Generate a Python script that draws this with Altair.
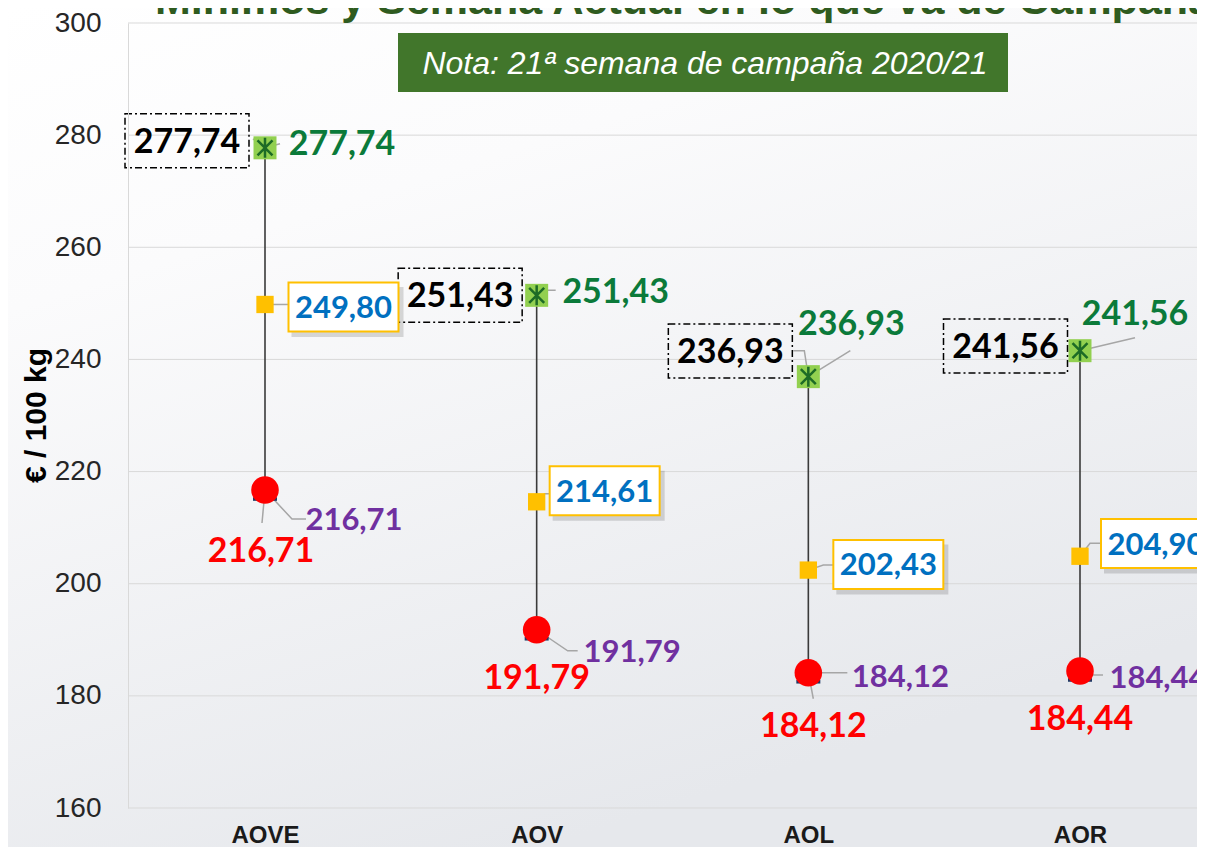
import json
import altair as alt
import pandas as pd

# ---------------- data ----------------
cats = ["AOVE", "AOV", "AOL", "AOR"]
maximo = [277.74, 251.43, 236.93, 241.56]
actual = [249.80, 214.61, 202.43, 204.90]
minimo = [216.71, 191.79, 184.12, 184.44]
y_ticks = [160, 180, 200, 220, 240, 260, 280, 300]
title_text = "Mínimos y Semana Actual en lo que va de Campaña"
note_text = "Nota: 21ª semana de campaña 2020/21"
y_title = "€ / 100 kg"

# ---------------- layout (pixels) ----------------
W, H = 1069, 785
X0, X1 = 137, 952
YMIN, YMAX = 160, 300
PXX = (X1 - X0) / (len(cats) - 1)
PXY = H / (YMAX - YMIN)

# label offsets (dx to text centre, dy to text baseline) from each point
black_off = [(-78, 5), (-76.5, 12), (-78, -13.6), (-74.5, 7.3)]
green_off = [(77, 7), (79, 8), (43, -41.6), (55, -25.7)]
blue_off = [(78.5, 13.5), (68, 0), (80, 5.4), (76, -1.7)]
red_off = [(-4, 72), (0, 59.3), (5, 64.3), (0, 59.5)]
purple_off = [(89, 40), (95.5, 32.3), (92, 14.3), (78, 17)]

# leader lines (pixel waypoints from the point)
leaders = [
    (maximo, 0, [(0, 0), (-12, -9)]),
    (maximo, 0, [(0, 0), (15, -4)]),
    (maximo, 1, [(0, 0), (11, -5), (19, -5)]),
    (maximo, 2, [(0, 0), (-4, -26), (-15, -26)]),
    (maximo, 2, [(0, 0), (42, -26)]),
    (maximo, 3, [(0, 0), (55, -13)]),
    (actual, 0, [(0, 0), (24, 0)]),
    (actual, 1, [(0, 0), (8, -8), (15, -8)]),
    (actual, 2, [(0, 0), (15, -5), (25, -5)]),
    (actual, 3, [(0, 0), (10, -13), (20, -13)]),
    (minimo, 0, [(0, 0), (-3, 33)]),
    (minimo, 2, [(0, 0), (5, 26)]),
    (minimo, 0, [(0, 0), (27, 29), (41, 29)]),
    (minimo, 1, [(0, 0), (31, 21), (41, 21)]),
    (minimo, 2, [(0, 0), (15, 0), (39, 0)]),
    (minimo, 3, [(0, 0), (10, 4), (23, 4)]),
]


def fmt(v):
    return f"{v:.2f}".replace(".", ",")


def lab_df(values, offs, box_dy=0.0):
    rows = []
    for i, (v, (dx, dy)) in enumerate(zip(values, offs)):
        rows.append(dict(lx=i + dx / PXX, ly=v - dy / PXY,
                         by=v - (dy - box_dy) / PXY, txt=fmt(v)))
    return pd.DataFrame(rows)


pts = pd.DataFrame(dict(idx=list(range(len(cats))), mx=maximo, act=actual, mn=minimo))
grid = pd.DataFrame(dict(t=y_ticks))

lrows = []
for k, (vals, i, path) in enumerate(leaders):
    for o, (dx, dy) in enumerate(path):
        lrows.append(dict(lid=k, o=o, lx=i + dx / PXX, ly=vals[i] - dy / PXY))
lead = pd.DataFrame(lrows)

black = lab_df(maximo, black_off, 12)
green = lab_df(maximo, green_off)
blue = lab_df(actual, blue_off, 11)
red = lab_df(minimo, red_off)
purple = lab_df(minimo, purple_off)

one = pd.DataFrame(dict(a=[0]))

# ---------------- scales / axes ----------------
xscale = alt.Scale(domain=[0, len(cats) - 1], range=[X0, X1], nice=False, zero=False)
yscale = alt.Scale(domain=[YMIN, YMAX], nice=False, zero=False)
label_expr = json.dumps(cats) + "[datum.value]"
xaxis = alt.Axis(values=list(range(len(cats))), labelExpr=label_expr, title="",
                 labelFont="Liberation Sans", labelFontSize=24, labelFontWeight="bold",
                 labelColor="#1a1a1a", labelPadding=15, ticks=False, domain=False,
                 grid=False, labelFlush=False, labelOverlap=False, zindex=1)
yaxis = alt.Axis(values=y_ticks, title=y_title, labelFont="Liberation Sans",
                 labelFontSize=28, labelColor="#262626", labelPadding=27, ticks=False,
                 domain=True, domainColor="#d9d9d9", domainWidth=1, grid=False,
                 titleFont="Liberation Sans", titleFontSize=30, titleFontWeight="bold",
                 titleColor="#000000", titleX=-92, titleY=392, titleBaseline="middle",
                 labelFlush=False, zindex=1)


def X(f):
    return alt.X(f"{f}:Q", scale=xscale, axis=xaxis)


def Y(f):
    return alt.Y(f"{f}:Q", scale=yscale, axis=yaxis)


# ---------------- layers ----------------
bg = alt.Chart(one).mark_rect(
    color=alt.Gradient(gradient="linear", x1=0, y1=0, x2=0.45, y2=1,
                       stops=[alt.GradientStop(color="#ffffff", offset=0),
                              alt.GradientStop(color="#fbfbfc", offset=0.3),
                              alt.GradientStop(color="#e6e8ec", offset=1)])
).encode(x=alt.value(-120), x2=alt.value(W), y=alt.value(-15), y2=alt.value(H + 39))

gridlines = alt.Chart(grid).mark_rule(color="#d9d9d9", strokeWidth=1).encode(
    y=Y("t"), x=alt.value(0), x2=alt.value(W))

note_box = alt.Chart(one).mark_rect(color="#41762b").encode(
    x=alt.value(270), x2=alt.value(880), y=alt.value(10), y2=alt.value(69))
note = alt.Chart(one).mark_text(
    text=note_text, font="Liberation Sans", fontSize=32, fontStyle="italic",
    color="#ffffff", align="center", baseline="middle"
).encode(x=alt.value(577), y=alt.value(41))

title = alt.Chart(one).mark_text(
    text=title_text, font="Liberation Sans", fontSize=43, fontWeight="bold",
    color="#2f5b1f", align="left", baseline="alphabetic"
).encode(x=alt.value(27), y=alt.value(-9))

vlines = alt.Chart(pts).mark_rule(color="#3a3a3a", strokeWidth=1.6).encode(
    x=X("idx"), y=Y("mn"), y2=alt.Y2("mx"))

leader_lines = alt.Chart(lead).mark_line(color="#a6a6a6", strokeWidth=1.5).encode(
    x=X("lx"), y=Y("ly"), detail="lid:N", order="o:Q")

dash = alt.Chart(pts).mark_point(
    shape="M-1,-0.15L1,-0.15L1,0.15L-1,0.15Z", size=576, filled=True,
    color="#1f3864", opacity=1, yOffset=9
).encode(x=X("idx"), y=Y("mn"))

circles = alt.Chart(pts).mark_point(
    shape="circle", size=760, filled=True, color="#ff0000", opacity=1
).encode(x=X("idx"), y=Y("mn"))

squares = alt.Chart(pts).mark_point(
    shape="square", size=300, filled=True, color="#ffc000", opacity=1
).encode(x=X("idx"), y=Y("act"))

gsq = alt.Chart(pts).mark_point(
    shape="square", size=529, filled=True, color="#92d050", opacity=1
).encode(x=X("idx"), y=Y("mx"))

star = alt.Chart(pts).mark_point(
    shape="M-0.75,-0.75L0.75,0.75M-0.75,0.75L0.75,-0.75M0,-1L0,1", size=400,
    filled=False, color="#1d6b26", strokeWidth=2.5, opacity=1
).encode(x=X("idx"), y=Y("mx"))

black_box = alt.Chart(black).mark_point(
    shape="M-1,-0.4355L1,-0.4355L1,0.4355L-1,0.4355Z", size=124 * 124,
    filled=False, color="#000000", strokeWidth=1.5, strokeDash=[7, 3, 2, 3], opacity=1
).encode(x=X("lx"), y=Y("by"))

blue_shadow = alt.Chart(blue).mark_point(
    shape="M-1,-0.4455L1,-0.4455L1,0.4455L-1,0.4455Z", size=112 * 112,
    filled=True, color="#000000", opacity=0.14, xOffset=4, yOffset=5
).encode(x=X("lx"), y=Y("by"))

blue_box = alt.Chart(blue).mark_point(
    shape="M-1,-0.4455L1,-0.4455L1,0.4455L-1,0.4455Z", size=110 * 110,
    filled=True, fill="#ffffff", stroke="#ffc000", strokeWidth=2, opacity=1
).encode(x=X("lx"), y=Y("by"))


def labels(df, color, size):
    return alt.Chart(df).mark_text(
        font="Lato", fontWeight="bold", fontSize=size, color=color,
        align="center", baseline="alphabetic"
    ).encode(x=X("lx"), y=Y("ly"), text="txt:N")


chart = alt.layer(
    bg, gridlines, note_box, note, title, vlines, leader_lines,
    dash, circles, squares, gsq, star,
    black_box, blue_shadow, blue_box,
    labels(black, "#000000", 34),
    labels(green, "#0b7a3a", 34),
    labels(blue, "#0070c0", 31),
    labels(red, "#ff0000", 34),
    labels(purple, "#7030a0", 31),
).properties(
    width=W, height=H,
    autosize=alt.AutoSizeParams(type="none"),
    padding={"left": 120, "top": 15, "right": 0, "bottom": 39},
    background="#ffffff",
).configure_view(strokeWidth=0)

chart.save("out.html", embed_options={"renderer": "svg", "actions": False})
